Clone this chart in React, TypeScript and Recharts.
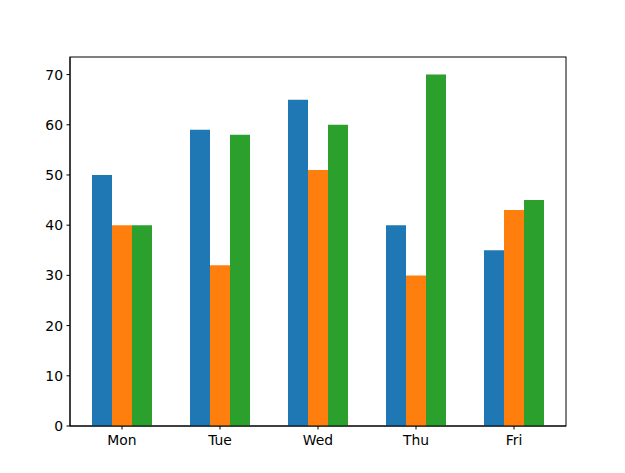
import React from "react";
import * as R from "recharts";
import { BarChart, Bar, XAxis, YAxis } from "recharts";

const days = ["Mon", "Tue", "Wed", "Thu", "Fri"];
const seriesA = [50, 59, 65, 40, 35];
const seriesB = [40, 32, 51, 30, 43];
const seriesC = [40, 58, 60, 70, 45];
const yTicks = [0, 10, 20, 30, 40, 50, 60, 70];

const data = days.map((day, i) => ({
  day,
  a: seriesA[i],
  b: seriesB[i],
  c: seriesC[i],
}));

const tickStyle = { fill: "#000", fontSize: 13.9, fontFamily: "DejaVu Sans" };

// axes box like matplotlib, drawn from the chart's own plot area
const Frame = () => {
  const area: any = (R as any).usePlotArea ? (R as any).usePlotArea() : null;
  if (!area) return null;
  return (
    <rect
      x={area.x}
      y={area.y}
      width={area.width}
      height={area.height}
      fill="none"
      stroke="#000"
      strokeWidth={1}
    />
  );
};

export default function App() {
  return (
    <div style={{ position: "absolute", left: 0, top: 0, background: "#fff" }}>
      <BarChart
        width={625}
        height={473}
        data={data}
        margin={{ top: 57, right: 59, left: 0, bottom: 0 }}
        barSize={20}
        barGap={0}
      >
        <XAxis
          dataKey="day"
          height={47}
          padding={{ left: 3, right: 3 }}
          stroke="#000"
          tickSize={3.5}
          tickMargin={6}
          tick={tickStyle}
        />
        <YAxis
          width={70}
          domain={[0, 73.5]}
          ticks={yTicks}
          allowDataOverflow
          stroke="#000"
          tickSize={3.5}
          tickMargin={3.5}
          tick={tickStyle}
        />
        <Bar dataKey="a" fill="#1f77b4" isAnimationActive={false} />
        <Bar dataKey="b" fill="#ff7f0e" isAnimationActive={false} />
        <Bar dataKey="c" fill="#2ca02c" isAnimationActive={false} />
        <Frame />
      </BarChart>
    </div>
  );
}
